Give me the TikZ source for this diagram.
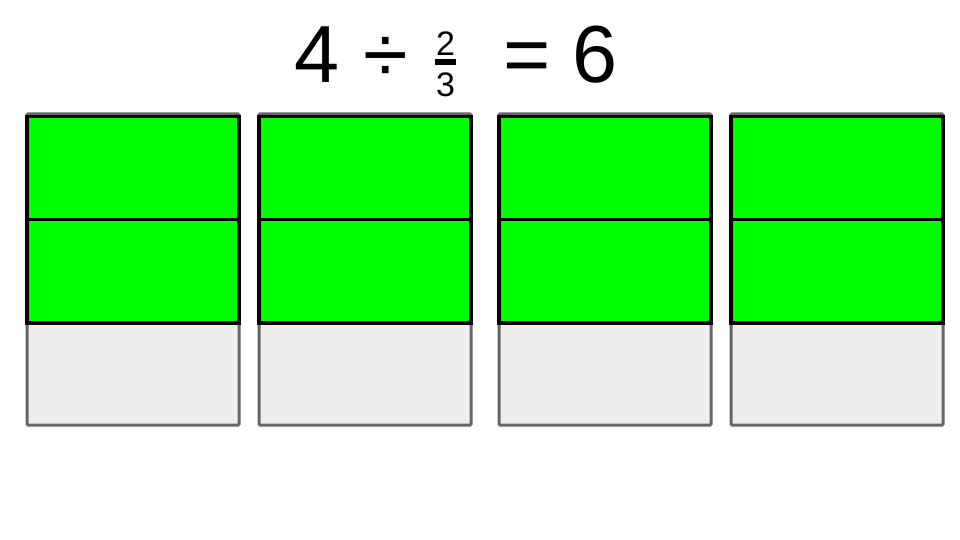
\documentclass[tikz,border=0pt]{standalone}
\usepackage{fontspec}
\setmainfont{Liberation Sans}
\definecolor{boxgreen}{HTML}{00FF00}
\definecolor{boxgray}{HTML}{EEEEEE}
\definecolor{edgegray}{HTML}{666666}
\begin{document}
\begin{tikzpicture}[x=1pt,y=-1pt,
  bigtxt/.style={inner sep=0pt, anchor=base, font=\fontsize{81}{81}\selectfont},
  smalltxt/.style={inner sep=0pt, anchor=base, font=\fontsize{34}{34}\selectfont},
  wholebox/.style={fill=boxgray, draw=edgegray, line width=3pt, rounded corners=1pt},
  part/.style={fill=boxgreen, draw=black, line width=3.6pt}]
\useasboundingbox (0,0) rectangle (960,540);
\fill[white] (0,0) rectangle (960,540);
% title
\node[bigtxt] (four) at (317,83) {4};
\node[bigtxt] (div) at (386,83) {÷};
\node[smalltxt] (num) at (445.5,56) {2};
\fill (435,59.5) rectangle (456,65.5);
\node[smalltxt] (den) at (445.5,97) {3};
\node[bigtxt] (eq) at (527,83) {=};
\node[bigtxt] (six) at (595,83) {6};
% boxes
\foreach \x in {27,259,499,731}{
  \draw[wholebox] (\x,114) rectangle (\x+212,425);
  \draw[part] (\x,116.5) rectangle (\x+212,219.5);
  \draw[part] (\x,219.5) rectangle (\x+212,323);
}
\end{tikzpicture}
\end{document}
